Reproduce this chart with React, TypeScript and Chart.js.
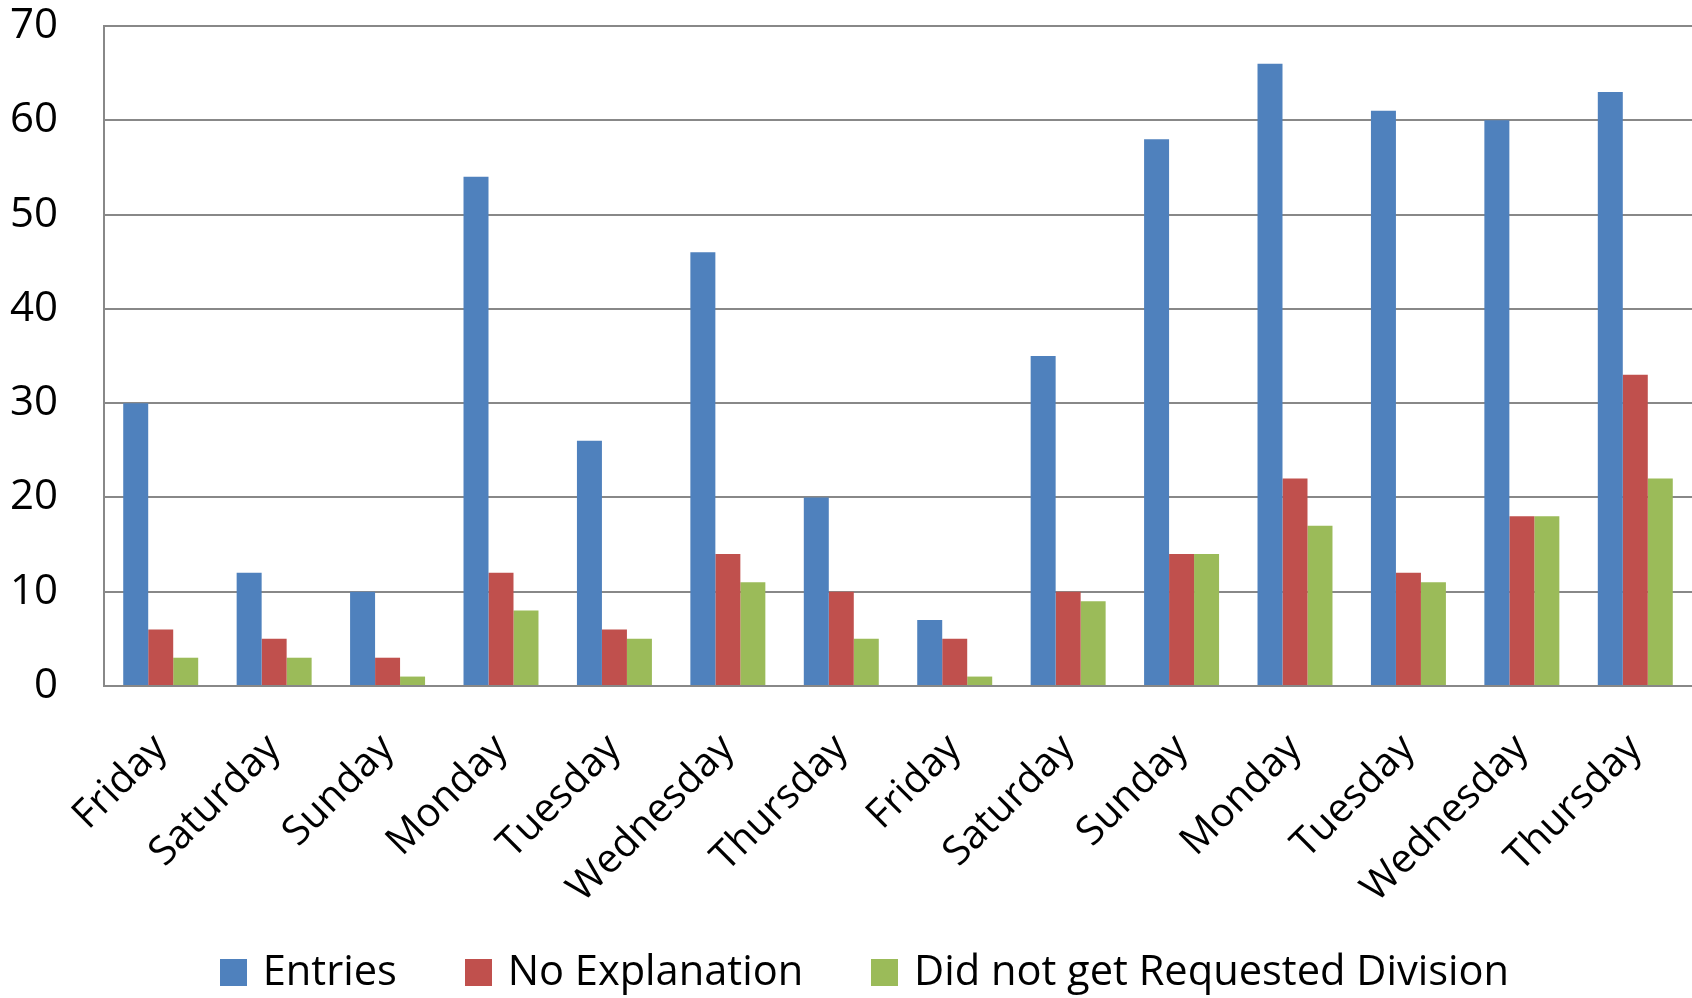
import React, { useEffect, useRef } from "react";
import { Chart, registerables } from "chart.js";

Chart.register(...registerables);

const categories = [
  "Friday", "Saturday", "Sunday", "Monday", "Tuesday", "Wednesday", "Thursday",
  "Friday", "Saturday", "Sunday", "Monday", "Tuesday", "Wednesday", "Thursday",
];
const entries = [30, 12, 10, 54, 26, 46, 20, 7, 35, 58, 66, 61, 60, 63];
const noExplanation = [6, 5, 3, 12, 6, 14, 10, 5, 10, 14, 22, 12, 18, 33];
const didNotGetDivision = [3, 3, 1, 8, 5, 11, 5, 1, 9, 14, 17, 11, 18, 22];
const seriesNames = ["Entries", "No Explanation", "Did not get Requested Division"];
const seriesColors = ["#4F81BD", "#C0504D", "#9BBB59"];
const yMin = 0;
const yMax = 70;
const yStep = 10;

const W = 1692;
const H = 998;
const FONT = "'Open Sans', 'DejaVu Sans', sans-serif";
const LEGEND_H = 119;
const X_AXIS_H = 193;
const Y_AXIS_W = 104;
const LEGEND_SHIFT = 21;
const BOX = 27;

function makeSwatch(color: string) {
  const c = document.createElement("canvas");
  c.width = BOX;
  c.height = BOX;
  const g = c.getContext("2d");
  if (g) {
    g.fillStyle = color;
    g.fillRect(0, 0, BOX, BOX);
  }
  return c;
}

const layoutPatchPlugin = {
  id: "layoutPatch",
  beforeLayout(chart: any) {
    const lg = chart.legend;
    if (lg && !lg._patched) {
      const orig = lg.fit.bind(lg);
      lg.fit = function () {
        orig();
        this.height = LEGEND_H;
      };
      lg._patched = true;
    }
  },
  afterLayout(chart: any) {
    const lg = chart.legend;
    if (lg) {
      lg.left += LEGEND_SHIFT;
      lg.right += LEGEND_SHIFT;
    }
    const xs = chart.scales && chart.scales.x;
    if (xs) {
      // let the rotated tick labels run past the axis box (no clipping)
      xs.bottom = chart.height;
    }
  },
};

export default function App() {
  const ref = useRef<HTMLCanvasElement | null>(null);
  useEffect(() => {
    if (!ref.current) return;
    const swatches = seriesColors.map(makeSwatch);
    const chart = new Chart(ref.current, {
      type: "bar",
      data: {
        labels: categories,
        datasets: [entries, noExplanation, didNotGetDivision].map((d, i) => ({
          label: seriesNames[i],
          data: d,
          backgroundColor: seriesColors[i],
          borderWidth: 0,
          categoryPercentage: 0.661,
          barPercentage: 1,
        })),
      },
      options: {
        animation: false,
        responsive: false,
        devicePixelRatio: 1,
        layout: { padding: { top: 26, left: 0, right: 0, bottom: 0 } },
        plugins: {
          tooltip: { enabled: false },
          legend: {
            position: "bottom",
            labels: {
              usePointStyle: true,
              boxWidth: 17,
              boxHeight: 27,
              padding: 73,
              color: "#000",
              font: { family: FONT, size: 41.6 },
              generateLabels(c: any) {
                const items = Chart.defaults.plugins.legend.labels.generateLabels(c);
                return items.map((it: any, i: number) => ({ ...it, pointStyle: swatches[i] }));
              },
            },
          },
        },
        scales: {
          x: {
            grid: { display: false, drawTicks: false },
            border: { display: true, color: "#888888", width: 2 },
            ticks: {
              color: "#000",
              font: { family: FONT, size: 40 },
              minRotation: 45,
              maxRotation: 45,
              autoSkip: false,
              padding: 39,
            },
            afterFit(scale: any) {
              scale.height = X_AXIS_H;
              scale.paddingLeft = 0;
              scale.paddingRight = 0;
            },
          },
          y: {
            min: yMin,
            max: yMax,
            grid: { color: "#888888", lineWidth: 2, drawTicks: false },
            border: { display: true, color: "#888888", width: 2 },
            ticks: {
              stepSize: yStep,
              color: "#000",
              font: { family: FONT, size: 42 },
              padding: 46,
            },
            afterFit(scale: any) {
              scale.width = Y_AXIS_W;
              scale.paddingTop = 0;
              scale.paddingBottom = 0;
            },
          },
        },
      },
      plugins: [layoutPatchPlugin],
    });
    return () => chart.destroy();
  }, []);
  return (
    <canvas
      ref={ref}
      width={W}
      height={H}
      style={{ position: "absolute", left: 0, top: 0, width: W, height: H, display: "block", background: "#fff" }}
    />
  );
}
